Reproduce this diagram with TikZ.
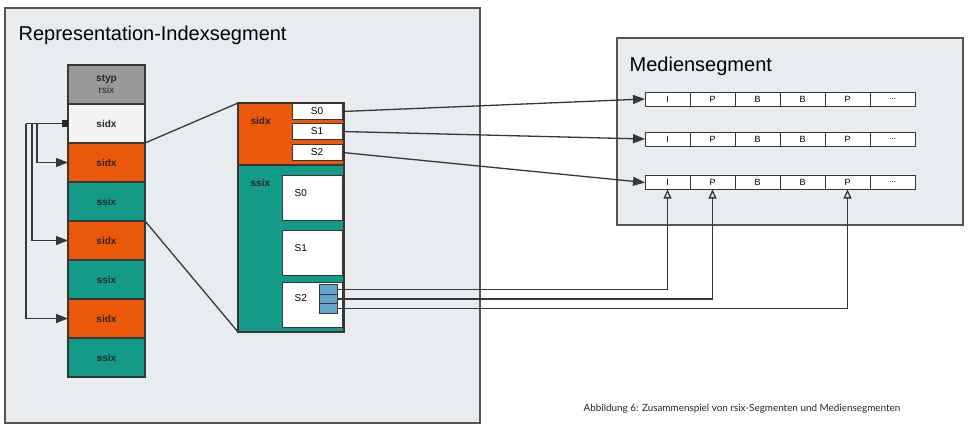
\documentclass[tikz,border=0pt]{standalone}
\usepackage{fontspec}
\setmainfont{Liberation Sans}
\newfontfamily\captionfont{Lato}
\usetikzlibrary{positioning,arrows.meta}

\definecolor{segback}{RGB}{232,236,238}
\definecolor{segline}{RGB}{85,85,85}
\definecolor{wire}{RGB}{55,55,55}
\definecolor{sidxorange}{RGB}{236,88,10}
\definecolor{ssixteal}{RGB}{20,154,137}
\definecolor{stypgray}{RGB}{153,153,153}
\definecolor{idxwhite}{RGB}{242,244,245}
\definecolor{sampleblue}{RGB}{100,166,204}

\tikzset{
  segment/.style={draw=segline, line width=1.5pt, fill=segback, outer sep=0pt, inner sep=0pt, anchor=north west},
  segtitle/.style={font=\fontsize{20}{24}\selectfont, anchor=base west, inner sep=0pt},
  cell/.style={draw=wire, line width=1.2pt, minimum width=77pt, minimum height=39pt, outer sep=0pt, inner sep=0pt,
    font=\fontsize{10}{12}\selectfont\bfseries, text=black!85, align=center},
  zoombox/.style={draw=wire, line width=1.2pt, minimum width=106pt, outer sep=0pt, inner sep=0pt},
  tag/.style={font=\fontsize{10}{12}\selectfont\bfseries, text=black!85, inner sep=0pt, anchor=west},
  entry/.style={draw=wire, line width=1pt, fill=white, minimum width=50pt, minimum height=16pt, inner sep=0pt,
    font=\fontsize{10}{12}\selectfont},
  subseg/.style={draw=wire, line width=1pt, fill=white, minimum width=60pt, minimum height=45pt, inner sep=0pt,
    anchor=north west},
  sublbl/.style={font=\fontsize{10}{12}\selectfont, inner sep=0pt, anchor=west},
  sample/.style={draw=wire, line width=1pt, fill=sampleblue, minimum width=18pt, minimum height=9.5pt,
    inner sep=0pt, outer sep=0pt},
  frm/.style={draw=wire, line width=1pt, fill=white, minimum width=45pt, minimum height=14pt, inner sep=0pt,
    outer sep=0pt, font=\fontsize{9}{10}\selectfont},
  tapsq/.style={fill=black!85, minimum width=6pt, minimum height=7pt, inner sep=0pt, outer sep=0pt},
  sampleline/.style={-{Triangle[open,length=9pt,width=8pt]}},
  captiontext/.style={font=\captionfont\fontsize{9.9}{12}\selectfont, text=black!85, inner sep=0pt, anchor=west}
}

\begin{document}
\begin{tikzpicture}[x=1pt, y=-1pt, line width=1.3pt, draw=wire, >={Triangle[length=12pt,width=9pt]}]
\useasboundingbox (0,0) rectangle (968,437);

%Segments
\node[segment, minimum width=475pt, minimum height=415pt] (RI) at (5,8) {};
\node[segtitle] (RItitle) at (18,40) {Representation-Indexsegment};
\node[segment, minimum width=346pt, minimum height=187pt] (MS) at (617,38) {};
\node[segtitle] (MStitle) at (629,71) {Mediensegment};

%Left column
\node[cell, fill=stypgray, anchor=north] (styp) at (106.5,65) {styp\\{\mdseries rsix}};
\node[cell, fill=idxwhite]   (sidx0) [below=0pt of styp]  {sidx};
\node[cell, fill=sidxorange] (sidx1) [below=0pt of sidx0] {sidx};
\node[cell, fill=ssixteal]   (ssix1) [below=0pt of sidx1] {ssix};
\node[cell, fill=sidxorange] (sidx2) [below=0pt of ssix1] {sidx};
\node[cell, fill=ssixteal]   (ssix2) [below=0pt of sidx2] {ssix};
\node[cell, fill=sidxorange] (sidx3) [below=0pt of ssix2] {sidx};
\node[cell, fill=ssixteal]   (ssix3) [below=0pt of sidx3] {ssix};

%Zoomed sidx + ssix
\node[zoombox, fill=sidxorange, minimum height=62pt, anchor=north west] (msidx) at (238,103) {};
\node[zoombox, fill=ssixteal, minimum height=167pt] (mssix) [below=0pt of msidx] {};
\node[tag] (msidxlbl) at (250,121) {sidx};
\node[tag] (mssixlbl) at (250,183) {ssix};

\node[entry] (ix0) at (317,111.5) {S0};
\node[entry] (ix1) at (317,131.5) {S1};
\node[entry] (ix2) at (317,152.5) {S2};

\node[subseg] (sx0) at (282,175) {};
\node[subseg] (sx1) at (282,230) {};
\node[subseg] (sx2) at (282,281.5) {};
\node[sublbl] (sx0lbl) at (294,193) {S0};
\node[sublbl] (sx1lbl) at (294,248) {S1};
\node[sublbl] (sx2lbl) at (294,298) {S2};

\node[sample] (smp0) at (328,289.5) {};
\node[sample] (smp1) [below=0pt of smp0] {};
\node[sample] (smp2) [below=0pt of smp1] {};

%Frames
\node[frm] (A1) at (667.5,99) {I};
\node[frm] (A2) [right=0pt of A1] {P};
\node[frm] (A3) [right=0pt of A2] {B};
\node[frm] (A4) [right=0pt of A3] {B};
\node[frm] (A5) [right=0pt of A4] {P};
\node[frm] (A6) [right=0pt of A5] {...};

\node[frm] (B1) at (667.5,139) {I};
\node[frm] (B2) [right=0pt of B1] {P};
\node[frm] (B3) [right=0pt of B2] {B};
\node[frm] (B4) [right=0pt of B3] {B};
\node[frm] (B5) [right=0pt of B4] {P};
\node[frm] (B6) [right=0pt of B5] {...};

\node[frm] (C1) at (667.5,182.5) {I};
\node[frm] (C2) [right=0pt of C1] {P};
\node[frm] (C3) [right=0pt of C2] {B};
\node[frm] (C4) [right=0pt of C3] {B};
\node[frm] (C5) [right=0pt of C4] {P};
\node[frm] (C6) [right=0pt of C5] {...};

%Caption
\node[captiontext] (caption) at (583,409) {Abbildung 6: Zusammenspiel von rsix-Segmenten und Mediensegmenten};

%Lines
\node[tapsq] (tap) [left=0pt of sidx0] {};
\coordinate (k1) at (37,123.5);
\coordinate (k2) at (32,123.5);
\coordinate (k3) at (26,123.5);
\draw (tap.west) -- (k3);
\draw[->] (k1) |- (sidx1.west);
\draw[->] (k2) |- (sidx2.west);
\draw[->] (k3) |- (sidx3.west);

\draw (sidx0.south east) -- (msidx.north west);
\draw (ssix1.south east) -- (mssix.south west);

\draw[->] (ix0.east) -- (A1.west);
\draw[->] (ix1.east) -- (B1.west);
\draw[->] (ix2.east) -- (C1.west);

\draw[sampleline] (smp0.east) -| (C1.south);
\draw[sampleline] (smp1.east) -| (C2.south);
\draw[sampleline] (smp2.east) -| (C5.south);
\end{tikzpicture}
\end{document}
